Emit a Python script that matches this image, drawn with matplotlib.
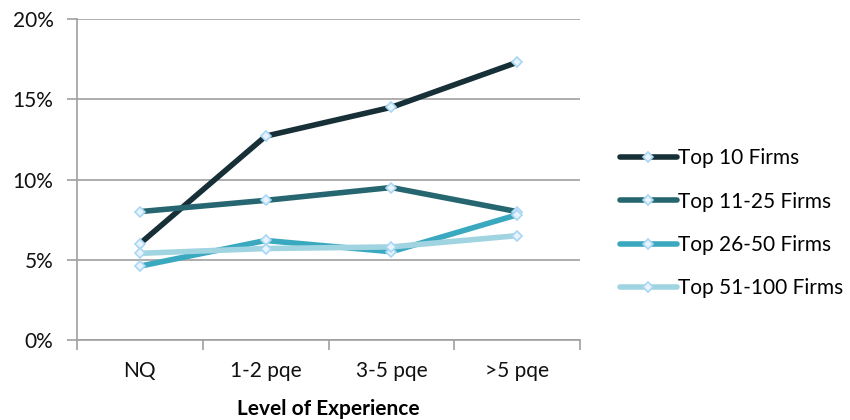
import matplotlib
matplotlib.use("Agg")
import matplotlib.pyplot as plt
from matplotlib.ticker import FuncFormatter, FixedLocator

plt.rcParams['font.family'] = ['Lato', 'DejaVu Sans']

categories = ["NQ", "1-2 pqe", "3-5 pqe", ">5 pqe"]
series_names = ["Top 10 Firms", "Top 11-25 Firms", "Top 26-50 Firms", "Top 51-100 Firms"]
top10 = [6.0, 12.7, 14.5, 17.3]
top11_25 = [8.0, 8.7, 9.5, 8.0]
top26_50 = [4.6, 6.2, 5.5, 7.8]
top51_100 = [5.4, 5.7, 5.8, 6.5]
colors = ["#172f37", "#266670", "#3aa9bf", "#9fd4e0"]

FS = 15

fig = plt.figure(figsize=(8.5, 4.2), dpi=100)
ax = fig.add_axes([77/850, 1-340/420, (580-77)/850, (340-19)/420])

x = list(range(len(categories)))
handles = []
for vals, name, c in zip([top10, top11_25, top26_50, top51_100], series_names, colors):
    h, = ax.plot(x, vals, color=c, lw=4.0, marker='D', markersize=5,
                 markerfacecolor='#e8f4fd', markeredgecolor='#a8d6f5', markeredgewidth=1.2,
                 solid_capstyle='round', label=name, zorder=3)
    handles.append(h)

ax.set_xlim(-0.5, 3.5)
ax.set_ylim(0, 20)
ax.set_yticks([0, 5, 10, 15, 20])
ax.yaxis.set_major_formatter(FuncFormatter(lambda v, p: f"{int(v)}%"))
ax.grid(axis='y', color='#a0a0a0', lw=1.2, zorder=0)
ax.set_axisbelow(True)

ax.set_xticks(x)
ax.set_xticklabels(categories)
ax.xaxis.set_minor_locator(FixedLocator([-0.5, 0.5, 1.5, 2.5, 3.5]))
ax.tick_params(axis='x', which='major', length=0, pad=15, labelsize=FS, colors='#111111')
ax.tick_params(axis='x', which='minor', length=7, width=1.2, color='#a0a0a0', direction='out')
ax.tick_params(axis='y', length=7, width=1.2, color='#a0a0a0', labelsize=FS, pad=10, labelcolor='#111111')

for s in ['top', 'right']:
    ax.spines[s].set_visible(False)
for s in ['left', 'bottom']:
    ax.spines[s].set_color('#a0a0a0')
    ax.spines[s].set_linewidth(1.2)

ax.set_xlabel("Level of Experience", fontsize=FS, fontweight='bold', labelpad=13)

fig.legend(handles=handles, loc='upper left', bbox_to_anchor=(612/850, 1-140/420),
           frameon=False, fontsize=FS, handlelength=2.7, labelspacing=1.12,
           handletextpad=0.05, borderaxespad=0)

fig.savefig("out.png", dpi=100)
